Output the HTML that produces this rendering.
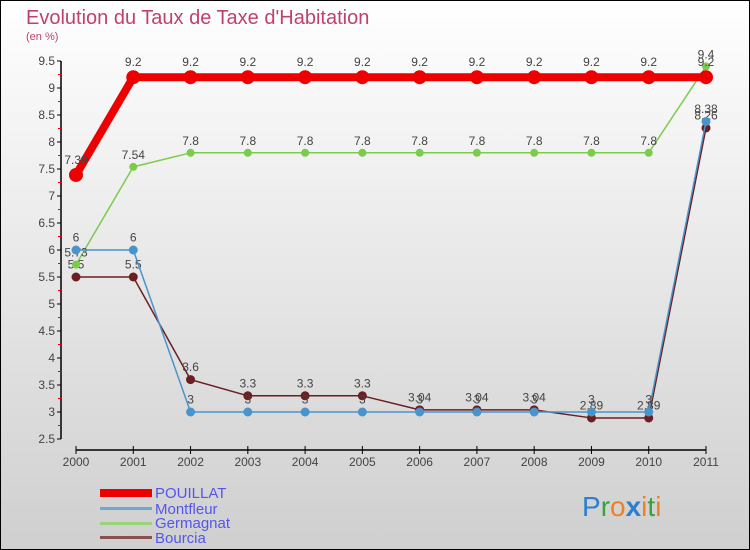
<!DOCTYPE html>
<html><head><meta charset="utf-8"><style>
body{margin:0;}
#wrap{width:750px;height:550px;position:relative;overflow:hidden;}
svg{display:block;font-family:"Liberation Sans","DejaVu Sans",sans-serif;}
</style></head><body>
<div id="wrap">
<svg id="chart" width="750" height="550">
<defs><linearGradient id="bg" x1="0" y1="0" x2="0" y2="1"><stop offset="0" stop-color="#ffffff"/><stop offset="1" stop-color="#cfcfcf"/></linearGradient></defs>
<rect x="0.5" y="0.5" width="749" height="549" fill="url(#bg)" stroke="#000"/>
<text x="26" y="24" font-size="20" fill="#c0406e">Evolution du Taux de Taxe d'Habitation</text>
<text x="26" y="40" font-size="11" fill="#c0406e">(en %)</text>
<g id="axes"></g><g id="series"></g>
<g>
<rect x="100" y="489" width="52" height="8" fill="#e00"/>
<text x="155" y="498" font-size="15" fill="#5555ee">POUILLAT</text>
<rect x="100" y="507" width="52" height="3" fill="#6fa8d0"/>
<text x="155" y="514" font-size="15" fill="#5555ee">Montfleur</text>
<rect x="100" y="522" width="52" height="3" fill="#99d47a"/>
<text x="155" y="528" font-size="15" fill="#5555ee">Germagnat</text>
<rect x="100" y="536" width="52" height="3" fill="#8a5050"/>
<text x="155" y="543" font-size="15" fill="#5555ee">Bourcia</text>
</g>
<g font-size="28">
<text x="582" y="516"><tspan fill="#2a7fd0">P</tspan><tspan fill="#3aa040">r</tspan><tspan fill="#f08020">o</tspan><tspan fill="#2a7fd0" font-weight="bold">x</tspan><tspan fill="#f08020">i</tspan><tspan fill="#3aa040">t</tspan><tspan fill="#f08020">i</tspan></text>
</g>
</svg></div>
<script>
const years=["2000","2001","2002","2003","2004","2005","2006","2007","2008","2009","2010","2011"];
const pouillat=[7.39,9.2,9.2,9.2,9.2,9.2,9.2,9.2,9.2,9.2,9.2,9.2];
const montfleur=[6,6,3,3,3,3,3,3,3,3,3,8.38];
const germagnat=[5.73,7.54,7.8,7.8,7.8,7.8,7.8,7.8,7.8,7.8,7.8,9.4];
const bourcia=[5.5,5.5,3.6,3.3,3.3,3.3,3.04,3.04,3.04,2.89,2.89,8.26];
const yTicks=[2.5,3,3.5,4,4.5,5,5.5,6,6.5,7,7.5,8,8.5,9,9.5];
const NS="http://www.w3.org/2000/svg";
const x=i=>76+i*(630/11);
const y=v=>439-(v-2.5)*54;
function mk(tag,attrs,parent){const e=document.createElementNS(NS,tag);for(const k in attrs)e.setAttribute(k,attrs[k]);parent.appendChild(e);return e;}
const ax=document.getElementById('axes');
let yl=mk('line',{x1:61,y1:y(9.5),x2:61,y2:y(2.5),stroke:'#000','stroke-width':1.5},ax);


yTicks.forEach(v=>{
 mk('line',{x1:57,y1:y(v),x2:61,y2:y(v),stroke:'#000'},ax);
 if(v<9.5) mk('line',{x1:58,y1:y(v+0.25),x2:61,y2:y(v+0.25),stroke:'#e00'},ax);
 const t=mk('text',{x:55,y:y(v)+4,'font-size':12,'text-anchor':'end',fill:'#444'},ax);t.textContent=String(v);
 
 
});
let xl=mk('line',{x1:76,y1:450,x2:706,y2:450,stroke:'#000','stroke-width':1.5},ax);


years.forEach((yr,i)=>{
 mk('line',{x1:x(i),y1:446,x2:x(i),y2:454,stroke:'#000'},ax);
 const t=mk('text',{x:x(i),y:466,'font-size':12,'text-anchor':'middle',fill:'#444'},ax);t.textContent=yr;
 
 
});
const sg=document.getElementById('series');
function draw(name,vals,color,w,r){
 const g=mk('g',{},sg);
 
 
 const pl=mk('polyline',{points:vals.map((v,i)=>x(i)+','+y(v)).join(' '),fill:'none',stroke:color,'stroke-width':w,'stroke-linejoin':'round'},g);
 
 
 vals.forEach((v,i)=>{
  const c=mk('circle',{cx:x(i),cy:y(v),r:r,fill:color},g);
  
  
  const t=mk('text',{x:x(i),y:y(v)-r-4,'font-size':12,'text-anchor':'middle',fill:'#444'},g);t.textContent=String(v);
  
  
 });
}
draw('bourcia',bourcia,'#6b1f22',1.5,4.5);
draw('germagnat',germagnat,'#7ccc4c',1.5,4);
draw('montfleur',montfleur,'#4a94cc',1.5,4.5);
draw('pouillat',pouillat,'#ee0000',8,7);
</script>
</body></html>
